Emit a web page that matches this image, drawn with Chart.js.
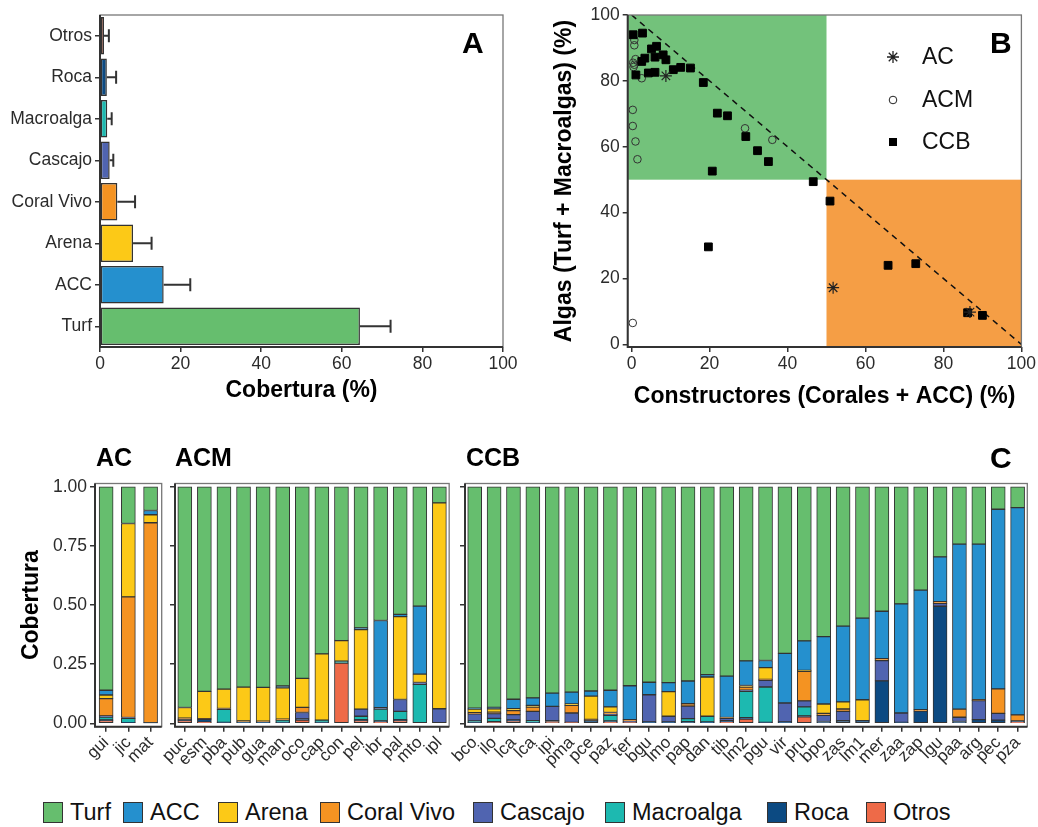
<!DOCTYPE html>
<html>
<head>
<meta charset="utf-8">
<script src="https://cdn.jsdelivr.net/npm/chart.js@4"></script>
<style>
  body { margin: 0; background: #fff; width: 1038px; height: 827px; position: relative; overflow: hidden;
         font-family: "Liberation Sans", Arial, sans-serif; }
  canvas { position: absolute; }
  .tag { position: absolute; font-weight: bold; color: #000; line-height: 1; white-space: nowrap; }
  .lg { position: absolute; top: 799px; display: flex; align-items: center; font-size: 23.5px; color: #111; white-space: nowrap; }
  .lg span.sw { display: inline-block; width: 18px; height: 19px; border: 1.5px solid #333; margin-right: 7px; }
</style>
</head>
<body>
<canvas id="chartA" width="520" height="410" style="left:0;top:0"></canvas>
<canvas id="chartB" width="498" height="410" style="left:540px;top:0"></canvas>
<canvas id="chartAC" width="170" height="320" style="left:0;top:470px"></canvas>
<canvas id="chartACM" width="305" height="320" style="left:150px;top:470px"></canvas>
<canvas id="chartCCB" width="598" height="320" style="left:440px;top:470px"></canvas>

<div class="tag" style="left:462px;top:28px;font-size:30px">A</div>
<div class="tag" style="left:990px;top:28px;font-size:30px">B</div>
<div class="tag" style="left:990px;top:443px;font-size:30px">C</div>
<div class="tag" style="left:96px;top:445px;font-size:25px">AC</div>
<div class="tag" style="left:175px;top:445px;font-size:25px">ACM</div>
<div class="tag" style="left:466px;top:445px;font-size:25px">CCB</div>
<div id="legend"></div>

<script>
// ---- Panel A: mean cover per category (%)
const coverCats = ["Otros", "Roca", "Macroalga", "Cascajo", "Coral Vivo", "Arena", "ACC", "Turf"];
const coverMean = [1.0, 1.7, 1.8, 2.4, 4.3, 8.2, 15.8, 64.5];
const coverSd = [1.2, 2.3, 1.1, 0.9, 4.4, 4.6, 6.6, 7.6];
const pctTicks = [0, 20, 40, 60, 80, 100];

// ---- Panel B: builders vs algae (%)
const acBuild = [8.8, 51.7, 86.8];
const acAlgae = [81.5, 17.2, 9.8];
const acmBuild = [0.7, 0.7, 1.0, 0.7, 0.4, 0.5, 2.6, 0.3, 0.3, 1.0, 36.1, 1.5, 29.1, 0.3];
const acmAlgae = [92.4, 90.8, 86.6, 84.9, 85.5, 84.2, 80.8, 71.2, 66.3, 61.6, 62.1, 56.2, 65.6, 6.5];
const ccbBuild = [0.4, 2.8, 1.1, 2.6, 3.4, 5.1, 6.4, 6.0, 8.1, 8.8, 4.3, 6.0, 10.7, 12.6, 15.1,
                  18.4, 22.0, 24.6, 29.3, 32.3, 35.1, 20.7, 19.7, 46.6, 50.9, 65.8, 72.9, 86.2, 90.0];
const ccbAlgae = [94.0, 94.5, 81.8, 85.9, 86.9, 89.7, 90.5, 87.2, 87.9, 86.4, 82.4, 82.6, 83.4, 84.1, 83.9,
                  79.5, 70.2, 69.4, 63.1, 58.8, 55.5, 52.6, 29.6, 49.4, 43.5, 24.0, 24.5, 9.6, 8.8];

// ---- Panel C: proportion of cover per site (stack bottom -> top)
const stackOrder = ["Otros", "Roca", "Macroalga", "Cascajo", "Coral Vivo", "Arena", "ACC", "Turf"];
const propTicks = [0, 0.25, 0.5, 0.75, 1];

const acSites = ["gui", "jic", "mat"];
const acOtros = [0.012, 0, 0];
const acRoca = [0.003, 0.003, 0.002];
const acMacro = [0.012, 0.018, 0];
const acCasc = [0.005, 0.004, 0];
const acCoral = [0.073, 0.51, 0.846];
const acArena = [0.015, 0.31, 0.034];
const acACC = [0.02, 0, 0.018];
const acTurf = [0.86, 0.155, 0.10];

const acmSites = ["puc", "esm", "pba", "pub", "gua", "man", "oco", "cap", "con", "pel", "ibr", "pal", "mto", "ipl"];
const acmOtros = [0.012, 0.005, 0, 0, 0, 0, 0.014, 0, 0.255, 0.012, 0.006, 0.012, 0, 0];
const acmRoca = [0.004, 0.012, 0.004, 0.006, 0.005, 0.004, 0.005, 0.004, 0, 0.004, 0.004, 0.004, 0, 0];
const acmMacro = [0, 0, 0.055, 0, 0, 0.01, 0, 0.01, 0.008, 0.014, 0.05, 0.035, 0.165, 0];
const acmCasc = [0, 0, 0, 0, 0, 0, 0.027, 0, 0, 0.03, 0.006, 0.05, 0.008, 0.062];
const acmCoral = [0.006, 0.003, 0.004, 0.004, 0.004, 0.004, 0.022, 0, 0, 0, 0, 0, 0, 0];
const acmArena = [0.045, 0.115, 0.082, 0.143, 0.143, 0.132, 0.122, 0.28, 0.087, 0.336, 0, 0.35, 0.035, 0.87];
const acmACC = [0, 0, 0, 0, 0, 0.008, 0, 0, 0, 0.008, 0.369, 0.01, 0.288, 0];
const acmTurf = [0.933, 0.865, 0.855, 0.847, 0.848, 0.842, 0.81, 0.706, 0.65, 0.596, 0.565, 0.539, 0.504, 0.068];

const ccbSites = ["bco", "ilo", "lca", "lca", "ipi", "pma", "pce", "paz", "ter", "bgu", "lmo", "pap", "dan", "tib", "lm2",
                  "pgu", "vir", "pru", "bpo", "zas", "lm1", "mer", "zaa", "zap", "lgu", "paa", "arg", "pec", "pza"];
const ccbOtros = [0, 0.003, 0.011, 0, 0.008, 0.004, 0, 0.006, 0.003, 0, 0, 0, 0, 0.006, 0.018,
                  0, 0, 0.028, 0, 0, 0, 0, 0, 0, 0, 0, 0, 0, 0.006];
const ccbRoca = [0.004, 0.004, 0.004, 0.004, 0.004, 0, 0.012, 0.004, 0.004, 0.006, 0.006, 0.007, 0.006, 0.005, 0.006,
                 0.004, 0.006, 0.004, 0.008, 0.011, 0.012, 0.18, 0.004, 0.052, 0.495, 0.008, 0.016, 0.014, 0.004];
const ccbMacro = [0.006, 0.014, 0, 0.007, 0, 0, 0, 0.024, 0, 0, 0, 0.013, 0.024, 0, 0.112,
                  0.15, 0, 0.038, 0, 0, 0, 0, 0, 0, 0, 0, 0, 0, 0];
const ccbCasc = [0.03, 0.02, 0.022, 0.04, 0.06, 0.04, 0, 0.004, 0.003, 0.115, 0.024, 0.053, 0, 0.01, 0.004,
                 0.028, 0.08, 0.025, 0.026, 0.04, 0, 0.085, 0.04, 0, 0.012, 0.018, 0.08, 0.028, 0];
const ccbCoral = [0.005, 0.006, 0.017, 0.018, 0, 0.032, 0.005, 0.008, 0.006, 0, 0, 0.01, 0, 0.004, 0.014,
                  0.004, 0, 0.125, 0.008, 0.01, 0, 0.009, 0, 0.006, 0.007, 0.034, 0.004, 0.104, 0.026];
const ccbArena = [0.015, 0.015, 0.008, 0.007, 0, 0.006, 0.098, 0.024, 0, 0, 0.104, 0, 0.166, 0, 0.006,
                  0.05, 0, 0.004, 0.04, 0.03, 0.088, 0, 0, 0, 0, 0, 0, 0, 0];
const ccbACC = [0.004, 0.006, 0.04, 0.032, 0.056, 0.05, 0.022, 0.07, 0.143, 0.053, 0.038, 0.096, 0.01, 0.175, 0.104,
                0.03, 0.21, 0.125, 0.285, 0.32, 0.345, 0.2, 0.461, 0.505, 0.19, 0.698, 0.658, 0.759, 0.876];
const ccbTurf = [0.936, 0.932, 0.898, 0.892, 0.872, 0.868, 0.863, 0.86, 0.841, 0.826, 0.828, 0.821, 0.794, 0.8, 0.736,
                 0.734, 0.704, 0.651, 0.633, 0.589, 0.555, 0.526, 0.495, 0.437, 0.296, 0.242, 0.242, 0.095, 0.088];

// colours per cover class
const classColors = {
  "Turf": "#66BE6E", "ACC": "#2590CE", "Arena": "#FCC917", "Coral Vivo": "#F49322",
  "Cascajo": "#5064B0", "Macroalga": "#1DB9B0", "Roca": "#0C4A82", "Otros": "#EE6A48"
};
const legendOrder = ["Turf", "ACC", "Arena", "Coral Vivo", "Cascajo", "Macroalga", "Roca", "Otros"];
const legendLeft = [43, 123, 218, 320, 473, 605, 767, 866];

Chart.defaults.font.family = '"Liberation Sans", Arial, sans-serif';
Chart.defaults.color = "#2b2b2b";
Chart.defaults.animation = false;

const tickGrid = { offset: false, drawOnChartArea: false, drawTicks: true, tickLength: 5, color: "#333", lineWidth: 1.5 };
const noBorder = { display: false };
const fixedTicks = arr => s => { s.ticks = arr.map(v => ({ value: v })); };

// panel frame: thin grey box, dark left/bottom axis lines
const frame = {
  id: "frame",
  afterDatasetsDraw(chart) {
    const { ctx, chartArea: a } = chart;
    ctx.save();
    ctx.strokeStyle = "#777";
    ctx.lineWidth = 1.3;
    ctx.strokeRect(a.left, a.top, a.right - a.left, a.bottom - a.top);
    ctx.strokeStyle = "#333";
    ctx.lineWidth = 2;
    ctx.beginPath();
    ctx.moveTo(a.left, a.top);
    ctx.lineTo(a.left, a.bottom);
    ctx.lineTo(a.right, a.bottom);
    ctx.stroke();
    ctx.restore();
  }
};

// error bars for panel A (mean -> mean + sd)
const errorBars = {
  id: "errorBars",
  afterDatasetsDraw(chart) {
    const { ctx, scales: { x } } = chart;
    const meta = chart.getDatasetMeta(0);
    ctx.save();
    ctx.strokeStyle = "#333";
    ctx.lineWidth = 2;
    meta.data.forEach((bar, i) => {
      const x0 = x.getPixelForValue(coverMean[i]);
      const x1 = x.getPixelForValue(coverMean[i] + coverSd[i]);
      ctx.beginPath();
      ctx.moveTo(x0, bar.y);
      ctx.lineTo(x1, bar.y);
      ctx.moveTo(x1, bar.y - 6.5);
      ctx.lineTo(x1, bar.y + 6.5);
      ctx.stroke();
    });
    ctx.restore();
  }
};

// Panel A
new Chart(document.getElementById("chartA"), {
  type: "bar",
  data: {
    labels: coverCats,
    datasets: [{
      data: coverMean,
      backgroundColor: coverCats.map(c => classColors[c]),
      borderColor: "#333",
      borderWidth: 1.5,
      borderSkipped: false,
      barPercentage: 0.9,
      categoryPercentage: 1
    }]
  },
  options: {
    indexAxis: "y",
    responsive: false,
    layout: { padding: { left: 0, right: 17, top: 15, bottom: 0 } },
    plugins: { legend: { display: false }, tooltip: { enabled: false } },
    scales: {
      x: {
        min: 0, max: 100,
        afterBuildTicks: fixedTicks(pctTicks),
        ticks: { font: { size: 17.5 }, padding: 2 },
        grid: tickGrid, border: noBorder,
        title: { display: true, text: "Cobertura (%)", color: "#000", font: { size: 23, weight: "bold" }, padding: { top: 0, bottom: 6 } },
        afterFit: s => { s.height = 63; }
      },
      y: {
        ticks: { font: { size: 17.5 }, padding: 3 },
        grid: tickGrid, border: noBorder,
        afterFit: s => { s.width = 100; }
      }
    }
  },
  plugins: [errorBars, frame]
});

// Panel B
const quadrants = {
  id: "quadrants",
  beforeDatasetsDraw(chart) {
    const { ctx, chartArea: a, scales: { x, y } } = chart;
    const xm = x.getPixelForValue(50), ym = y.getPixelForValue(50);
    ctx.save();
    ctx.fillStyle = "#73C27B";
    ctx.fillRect(a.left, a.top, xm - a.left, ym - a.top);
    ctx.fillStyle = "#F59E45";
    ctx.fillRect(xm, ym, a.right - xm, a.bottom - ym);
    ctx.restore();
  }
};

const groupLegend = {
  id: "groupLegend",
  afterDraw(chart) {
    const ctx = chart.ctx;
    const mx = 353, tx = 382;
    const rows = [["AC", 57], ["ACM", 100], ["CCB", 142]];
    ctx.save();
    ctx.strokeStyle = "#222";
    ctx.fillStyle = "#000";
    // star
    ctx.lineWidth = 1.3;
    ctx.beginPath();
    const r = 6, y0 = rows[0][1];
    for (let k = 0; k < 4; k++) {
      const ang = k * Math.PI / 4;
      ctx.moveTo(mx - r * Math.cos(ang), y0 - r * Math.sin(ang));
      ctx.lineTo(mx + r * Math.cos(ang), y0 + r * Math.sin(ang));
    }
    ctx.stroke();
    // circle
    ctx.lineWidth = 1;
    ctx.beginPath();
    ctx.arc(mx, rows[1][1], 3.8, 0, Math.PI * 2);
    ctx.stroke();
    // square
    ctx.fillRect(mx - 4, rows[2][1] - 4, 8, 8);
    ctx.font = '23px "Liberation Sans", Arial, sans-serif';
    ctx.textBaseline = "middle";
    ctx.fillStyle = "#111";
    rows.forEach(([t, y]) => ctx.fillText(t, tx, y + 1));
    ctx.restore();
  }
};

const toPoints = (xs, ys) => xs.map((v, i) => ({ x: v, y: ys[i] }));

new Chart(document.getElementById("chartB"), {
  type: "scatter",
  data: {
    datasets: [
      { label: "CCB", data: toPoints(ccbBuild, ccbAlgae), pointStyle: "rect", pointRadius: 5.5,
        backgroundColor: "#000", borderColor: "#000", borderWidth: 1, order: 1 },
      { label: "AC", data: toPoints(acBuild, acAlgae), pointStyle: "star", pointRadius: 6,
        borderColor: "#222", borderWidth: 1.2, order: 0 },
      { label: "ACM", data: toPoints(acmBuild, acmAlgae), pointStyle: "circle", pointRadius: 3.8,
        backgroundColor: "rgba(0,0,0,0)", borderColor: "#333", borderWidth: 1, order: 2 },
      { type: "line", data: [{ x: 0, y: 100 }, { x: 100, y: 0 }], borderColor: "#111", borderWidth: 1.5,
        borderDash: [6, 5], pointRadius: 0, order: 3 }
    ]
  },
  options: {
    responsive: false,
    layout: { padding: { left: 0, right: 16, top: 15, bottom: 0 } },
    plugins: { legend: { display: false }, tooltip: { enabled: false } },
    scales: {
      x: {
        type: "linear", min: -1, max: 100,
        afterBuildTicks: fixedTicks(pctTicks),
        ticks: { font: { size: 17.5 }, padding: 2 },
        grid: tickGrid, border: noBorder,
        title: { display: true, text: "Constructores (Corales + ACC) (%)", color: "#000", font: { size: 23, weight: "bold" }, padding: { top: 0, bottom: 0 } },
        afterFit: s => { s.height = 63; }
      },
      y: {
        type: "linear", min: -0.8, max: 100,
        afterBuildTicks: fixedTicks(pctTicks),
        ticks: { font: { size: 17.5 }, padding: 3 },
        grid: tickGrid, border: noBorder,
        title: { display: true, text: "Algas (Turf + Macroalgas) (%)", color: "#000", font: { size: 23, weight: "bold" }, padding: { top: 11, bottom: 0 } },
        afterFit: s => { s.width = 87.7; }
      }
    }
  },
  plugins: [quadrants, frame, groupLegend]
});

// Panel C
function stackedChart(id, sites, values, showLabels, yWidth, padRight) {
  new Chart(document.getElementById(id), {
    type: "bar",
    data: {
      labels: sites,
      datasets: stackOrder.map((name, i) => ({
        label: name,
        data: values[i],
        backgroundColor: classColors[name],
        borderColor: "#333",
        borderWidth: 1,
        borderSkipped: false,
        barThickness: 14
      }))
    },
    options: {
      responsive: false,
      layout: { padding: { left: 0, right: padRight, top: 11.7, bottom: 0 } },
      plugins: { legend: { display: false }, tooltip: { enabled: false } },
      scales: {
        x: {
          stacked: true,
          ticks: { font: { size: 17 }, minRotation: 45, maxRotation: 45, autoSkip: false, padding: 1 },
          grid: tickGrid, border: noBorder,
          afterFit: s => { s.height = 63.3; }
        },
        y: {
          stacked: true, min: -0.014, max: 1.014,
          afterBuildTicks: fixedTicks(propTicks),
          ticks: { font: { size: 17.5 }, padding: 3, callback: v => showLabels ? v.toFixed(2) : "" },
          grid: tickGrid, border: noBorder,
          title: showLabels
            ? { display: true, text: "Cobertura", color: "#000", font: { size: 23, weight: "bold" }, padding: { top: 18, bottom: 0 } }
            : { display: false },
          afterFit: s => { s.width = yWidth; }
        }
      }
    },
    plugins: [frame]
  });
}

stackedChart("chartAC", acSites,
  [acOtros, acRoca, acMacro, acCasc, acCoral, acArena, acACC, acTurf], true, 95, 8.3);
stackedChart("chartACM", acmSites,
  [acmOtros, acmRoca, acmMacro, acmCasc, acmCoral, acmArena, acmACC, acmTurf], false, 25, 5.7);
stackedChart("chartCCB", ccbSites,
  [ccbOtros, ccbRoca, ccbMacro, ccbCasc, ccbCoral, ccbArena, ccbACC, ccbTurf], false, 25, 10.7);

// bottom legend
legendOrder.forEach((name, i) => {
  const item = document.createElement("div");
  item.className = "lg";
  item.style.left = legendLeft[i] + "px";
  const sw = document.createElement("span");
  sw.className = "sw";
  sw.style.background = classColors[name];
  const tx = document.createElement("span");
  tx.textContent = name;
  item.appendChild(sw);
  item.appendChild(tx);
  document.body.appendChild(item);
});
</script>
</body>
</html>
